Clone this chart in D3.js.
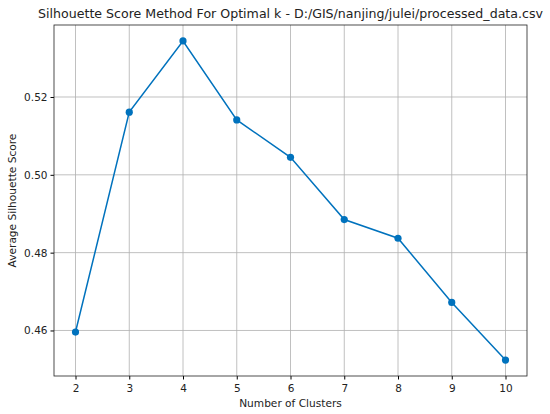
<!DOCTYPE html>
<html lang="en">
<head>
    <meta charset="UTF-8">
    <title>Silhouette Score Method For Optimal k</title>
    <script src="https://d3js.org/d3.v7.min.js"></script>
    <style>
        body {
            margin: 0;
            background-color: white;
        }
        svg text {
            font-family: "DejaVu Sans", sans-serif;
            fill: #222;
        }
    </style>
</head>
<body>
    <div id="chart"></div>
    <script>
        // Values
        const clusters = [2, 3, 4, 5, 6, 7, 8, 9, 10];
        const scores = [0.4596, 0.5161, 0.5344, 0.5141, 0.5045, 0.4885, 0.4837, 0.4672, 0.4524];
        const yTicks = [0.46, 0.48, 0.50, 0.52];
        const chartTitle = "Silhouette Score Method For Optimal k - D:/GIS/nanjing/julei/processed_data.csv";

        const data = clusters.map((k, i) => ({ k: k, score: scores[i] }));

        const width = 550, height = 414;
        const margin = { top: 25, right: 23, bottom: 38, left: 54 };
        const innerW = width - margin.left - margin.right;
        const innerH = height - margin.top - margin.bottom;

        const svg = d3.select("#chart")
            .append("svg")
            .attr("width", width)
            .attr("height", height);

        const g = svg.append("g")
            .attr("transform", `translate(${margin.left},${margin.top})`);

        // matplotlib style 5% margins
        const xPad = (d3.max(clusters) - d3.min(clusters)) * 0.05;
        const x = d3.scaleLinear()
            .domain([d3.min(clusters) - xPad, d3.max(clusters) + xPad])
            .range([0, innerW]);

        const yPad = (d3.max(scores) - d3.min(scores)) * 0.05;
        const y = d3.scaleLinear()
            .domain([d3.min(scores) - yPad, d3.max(scores) + yPad])
            .range([innerH, 0]);

        // grid
        g.append("g")
            .selectAll("line")
            .data(clusters)
            .enter()
            .append("line")
            .attr("x1", d => x(d)).attr("x2", d => x(d))
            .attr("y1", 0).attr("y2", innerH)
            .attr("stroke", "#b0b0b0")
            .attr("stroke-width", 0.8);

        g.append("g")
            .selectAll("line")
            .data(yTicks)
            .enter()
            .append("line")
            .attr("x1", 0).attr("x2", innerW)
            .attr("y1", d => y(d)).attr("y2", d => y(d))
            .attr("stroke", "#b0b0b0")
            .attr("stroke-width", 0.8);

        // X Axis
        const xAxis = g.append("g")
            .attr("transform", `translate(0,${innerH})`)
            .call(d3.axisBottom(x).tickValues(clusters).tickFormat(d3.format("d")).tickSize(3.5).tickSizeOuter(0));
        xAxis.select(".domain").remove();
        xAxis.selectAll("text").style("font-size", "10.5px").attr("dy", "0.95em");

        // Y Axis
        const yAxis = g.append("g")
            .call(d3.axisLeft(y).tickValues(yTicks).tickFormat(d3.format(".2f")).tickSize(3.5).tickSizeOuter(0));
        yAxis.select(".domain").remove();
        yAxis.selectAll("text").style("font-size", "10.5px");

        // frame
        g.append("rect")
            .attr("width", innerW)
            .attr("height", innerH)
            .attr("fill", "none")
            .attr("stroke", "#222")
            .attr("stroke-width", 0.8);

        // line + markers
        const line = d3.line()
            .x(d => x(d.k))
            .y(d => y(d.score));

        g.append("path")
            .datum(data)
            .attr("d", line)
            .attr("fill", "none")
            .attr("stroke", "#0072BD")
            .attr("stroke-width", 1.5);

        g.selectAll(".dot")
            .data(data)
            .enter()
            .append("circle")
            .attr("class", "dot")
            .attr("cx", d => x(d.k))
            .attr("cy", d => y(d.score))
            .attr("r", 3.6)
            .attr("fill", "#0072BD");

        // Title
        svg.append("text")
            .attr("x", margin.left + innerW / 2)
            .attr("y", 18)
            .attr("text-anchor", "middle")
            .style("font-size", "12.6px")
            .text(chartTitle);

        // Axis labels
        svg.append("text")
            .attr("x", margin.left + innerW / 2)
            .attr("y", 407)
            .attr("text-anchor", "middle")
            .style("font-size", "10.6px")
            .text("Number of Clusters");

        svg.append("text")
            .attr("text-anchor", "middle")
            .attr("transform", `translate(16,${margin.top + innerH / 2})rotate(-90)`)
            .style("font-size", "10.6px")
            .text("Average Silhouette Score");
    </script>
</body>
</html>
